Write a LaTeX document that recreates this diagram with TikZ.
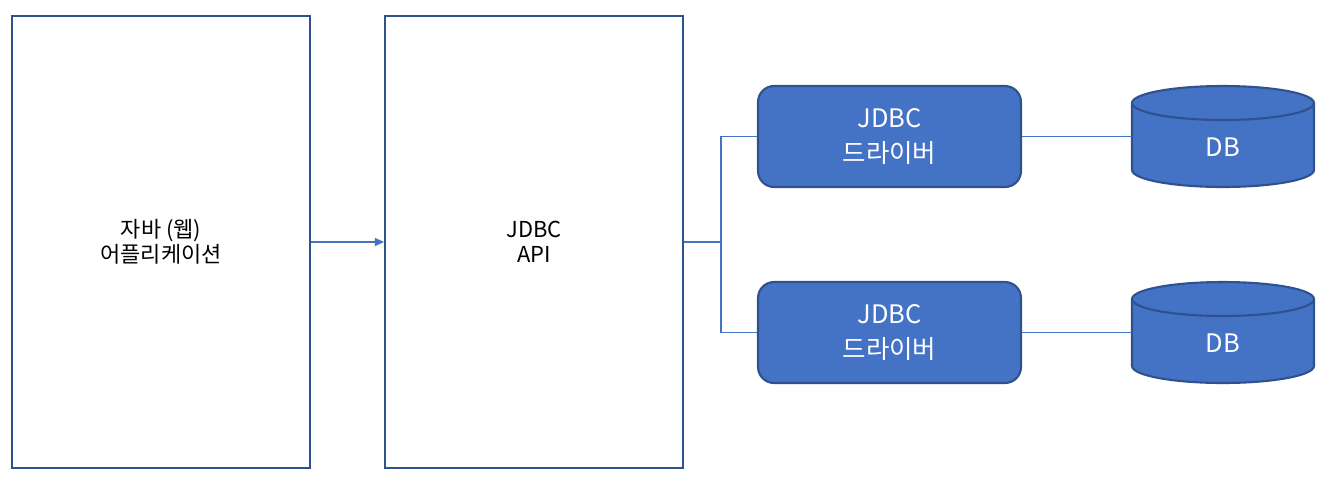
\documentclass[tikz,border=0pt]{standalone}
\usepackage{fontspec}
\setmainfont{Noto Sans CJK KR}
\usetikzlibrary{arrows.meta, backgrounds}
\definecolor{boxline}{HTML}{2F528F}
\definecolor{boxfill}{HTML}{4472C4}
\tikzset{
  bigbox/.style={draw=boxline, line width=1.2pt, fill=white, minimum width=5.96cm, minimum height=9.04cm, align=center, font=\fontsize{12.5}{14}\selectfont},
  drvbox/.style={draw=boxline, line width=1.2pt, fill=boxfill, rounded corners=0.32cm, minimum width=5.26cm, minimum height=2.02cm, align=center, text=white, font=\fontsize{14.5}{19.5}\selectfont},
  dbnode/.style={outer sep=0pt, minimum width=3.64cm, minimum height=2.02cm, text=white, font=\fontsize{14.5}{18.5}\selectfont},
  dbbody/.style={draw=boxline, line width=1.2pt, fill=boxfill},
  link/.style={draw=boxfill, line width=0.6pt}
}
\begin{document}
\begin{tikzpicture}[x=0.02cm, y=-0.02cm]
    \useasboundingbox (0,0) rectangle (1332,491);

    % Application and API
    \node[bigbox] (app) at (161,242) {자바 (웹)\\어플리케이션};
    \node[bigbox] (api) at (534,242) {JDBC\\API};

    % Drivers
    \node[drvbox] (drv1) at (889.5,136.5) {JDBC\\드라이버};
    \node[drvbox] (drv2) at (889.5,332.5) {JDBC\\드라이버};

    % Databases
    \node[dbnode] (db1) at (1223,136.5) {\raisebox{-0.39cm}[0.5cm][0.5cm]{DB}};
    \node[dbnode] (db2) at (1223,332.5) {\raisebox{-0.39cm}[0.5cm][0.5cm]{DB}};
    \begin{scope}[on background layer]
      \foreach \n in {db1,db2} {
        \draw[dbbody] ([yshift=0.34cm]\n.south west)
          arc[start angle=180, end angle=360, x radius=1.82cm, y radius=0.34cm]
          -- ([yshift=-0.34cm]\n.north east)
          arc[start angle=0, end angle=180, x radius=1.82cm, y radius=0.34cm] -- cycle;
        \draw[dbbody, fill=none] ([yshift=-0.34cm]\n.north west)
          arc[start angle=180, end angle=360, x radius=1.82cm, y radius=0.34cm];
      }
    \end{scope}

    % Connectors
    \draw[link, -{Triangle[length=1.8mm, width=1.6mm]}] (app) -- (api);
    \coordinate (split) at (721,242);
    \draw[link] (api.east) -- (split) |- (drv1.west);
    \draw[link] (split) |- (drv2.west);
    \draw[link] (drv1) -- (db1);
    \draw[link] (drv2) -- (db2);
\end{tikzpicture}
\end{document}
